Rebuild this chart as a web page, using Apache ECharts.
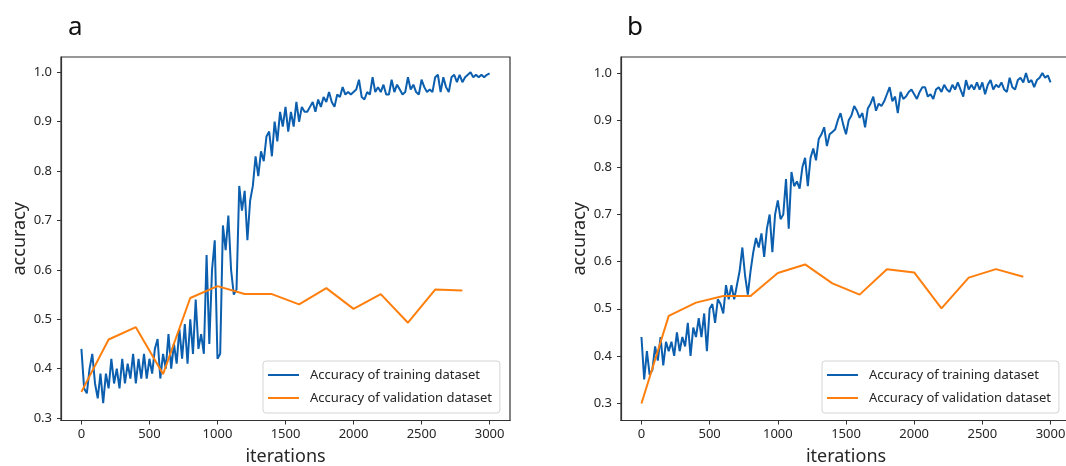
<!DOCTYPE html>
<html>
<head>
<meta charset="utf-8">
<script src="https://cdn.jsdelivr.net/npm/echarts@6/dist/echarts.min.js"></script>
<style>
  html, body { margin: 0; padding: 0; background: #fff; }
  #chart { width: 1066px; height: 466px; }
</style>
</head>
<body>
<div id="chart"></div>
<script>
// training accuracy is sampled every STEP iterations, validation every VAL_STEP
const STEP = 20;
const VAL_STEP = 200;
const xTicks = [0, 500, 1000, 1500, 2000, 2500, 3000];
const yTicks = [0.3, 0.4, 0.5, 0.6, 0.7, 0.8, 0.9, 1.0];

const trainA = [
  0.44, 0.36, 0.35, 0.40, 0.43, 0.37, 0.34, 0.39, 0.33, 0.39,
  0.36, 0.42, 0.37, 0.40, 0.36, 0.42, 0.37, 0.41, 0.38, 0.43,
  0.37, 0.42, 0.38, 0.43, 0.38, 0.42, 0.39, 0.44, 0.46, 0.38,
  0.43, 0.40, 0.47, 0.40, 0.45, 0.41, 0.48, 0.42, 0.49, 0.41,
  0.50, 0.43, 0.54, 0.44, 0.47, 0.43, 0.63, 0.45, 0.60, 0.66,
  0.42, 0.43, 0.69, 0.64, 0.71, 0.60, 0.55, 0.56, 0.77, 0.72,
  0.76, 0.66, 0.74, 0.77, 0.83, 0.79, 0.84, 0.82, 0.87, 0.88,
  0.83, 0.90, 0.86, 0.92, 0.89, 0.93, 0.88, 0.92, 0.89, 0.94,
  0.90, 0.93, 0.92, 0.92, 0.93, 0.94, 0.92, 0.945, 0.93, 0.95,
  0.94, 0.96, 0.94, 0.93, 0.955, 0.95, 0.97, 0.955, 0.96, 0.955,
  0.96, 0.965, 0.985, 0.95, 0.945, 0.96, 0.955, 0.99, 0.96, 0.97,
  0.96, 0.975, 0.955, 0.955, 0.985, 0.96, 0.975, 0.965, 0.955, 0.96,
  0.99, 0.965, 0.975, 0.96, 0.955, 0.985, 0.97, 0.96, 0.965, 0.96,
  0.99, 0.995, 0.96, 0.99, 0.97, 0.96, 0.99, 0.995, 0.98, 0.995,
  0.98, 0.99, 0.995, 1.0, 0.99, 0.995, 0.99, 0.995, 0.99, 0.995,
  0.998
];
const valA = [0.353, 0.459, 0.484, 0.389, 0.543, 0.567, 0.551, 0.551,
  0.530, 0.563, 0.521, 0.551, 0.493, 0.560, 0.558];

const trainB = [
  0.44, 0.35, 0.41, 0.36, 0.37, 0.42, 0.39, 0.44, 0.38, 0.43,
  0.41, 0.43, 0.40, 0.45, 0.41, 0.44, 0.42, 0.47, 0.40, 0.46,
  0.44, 0.48, 0.44, 0.49, 0.41, 0.50, 0.51, 0.47, 0.52, 0.51,
  0.49, 0.55, 0.52, 0.55, 0.52, 0.55, 0.58, 0.63, 0.57, 0.53,
  0.58, 0.62, 0.65, 0.63, 0.66, 0.61, 0.67, 0.70, 0.62, 0.70,
  0.73, 0.69, 0.70, 0.775, 0.67, 0.79, 0.76, 0.77, 0.755, 0.80,
  0.82, 0.76, 0.82, 0.84, 0.815, 0.86, 0.87, 0.885, 0.845, 0.87,
  0.875, 0.88, 0.90, 0.915, 0.89, 0.87, 0.90, 0.91, 0.93, 0.92,
  0.905, 0.915, 0.885, 0.925, 0.935, 0.95, 0.92, 0.935, 0.93, 0.94,
  0.955, 0.97, 0.94, 0.95, 0.915, 0.96, 0.945, 0.95, 0.96, 0.965,
  0.955, 0.945, 0.96, 0.97, 0.97, 0.95, 0.955, 0.945, 0.965, 0.97,
  0.96, 0.975, 0.965, 0.96, 0.975, 0.965, 0.98, 0.965, 0.95, 0.985,
  0.965, 0.975, 0.965, 0.98, 0.965, 0.98, 0.955, 0.975, 0.985, 0.965,
  0.975, 0.97, 0.98, 0.965, 0.96, 0.99, 0.97, 0.965, 0.985, 0.99,
  0.98, 1.0, 0.98, 0.985, 0.97, 0.985, 0.99, 1.0, 0.99, 0.995,
  0.98
];
const valB = [0.299, 0.485, 0.513, 0.527, 0.527, 0.576, 0.594, 0.554,
  0.530, 0.584, 0.577, 0.501, 0.566, 0.584, 0.568];

const trainName = 'Accuracy of training dataset';
const valName = 'Accuracy of validation dataset';
const blue = '#0b5fae';
const orange = '#ff7f0e';
const ink = '#262626';
const font = 'Noto Sans';

const chart = echarts.init(document.getElementById('chart'), null, { renderer: 'canvas' });

// one panel = grid + x/y axis with matplotlib-like box and outward ticks
function makeX(idx) {
  return {
    type: 'value', gridIndex: idx, min: -150, max: 3150, splitNumber: 6,
    name: 'iterations', nameLocation: 'middle', nameGap: 27,
    nameTextStyle: { color: ink, fontSize: 18, fontFamily: font },
    axisLine: { show: true, onZero: false, lineStyle: { color: '#333', width: 1.2 } },
    axisTick: { show: true, length: 4, lineStyle: { color: '#333' } },
    splitLine: { show: false },
    axisLabel: {
      color: ink, fontSize: 13, fontFamily: font, margin: 7,
      showMinLabel: false, showMaxLabel: false,
      formatter: v => (xTicks.indexOf(v) >= 0 ? String(v) : '')
    }
  };
}
function makeY(idx, min, max) {
  return {
    type: 'value', gridIndex: idx, min: min, max: max, splitNumber: 7,
    name: 'accuracy', nameLocation: 'middle', nameGap: 32, nameRotate: 90,
    nameTextStyle: { color: ink, fontSize: 18, fontFamily: font },
    axisLine: { show: true, onZero: false, lineStyle: { color: '#333', width: 1.2 } },
    axisTick: { show: true, length: 4, lineStyle: { color: '#333' } },
    splitLine: { show: false },
    axisLabel: {
      color: ink, fontSize: 13, fontFamily: font, margin: 9,
      showMinLabel: false, showMaxLabel: false,
      formatter: v => {
        const r = Math.round(v * 10) / 10;
        return (Math.abs(v - r) < 1e-6 && yTicks.indexOf(r) >= 0) ? r.toFixed(1) : '';
      }
    }
  };
}
function makeLegend(left) {
  return {
    orient: 'vertical', left: left, top: 361,
    data: [trainName, valName],
    icon: 'rect', itemWidth: 31, itemHeight: 2, itemGap: 9,
    padding: [7, 8, 8, 5],
    backgroundColor: '#fff', borderColor: '#d4d4d4', borderWidth: 1, borderRadius: 3,
    textStyle: { color: ink, fontSize: 13, lineHeight: 14, fontFamily: font, padding: [0, 0, 0, 6] }
  };
}
function lineSeries(name, idx, color, values, step) {
  return {
    name: name, type: 'line', xAxisIndex: idx, yAxisIndex: idx,
    data: values.map((v, i) => [i * step, v]),
    symbol: 'none', showSymbol: false, animation: false,
    lineStyle: { color: color, width: 2 }, itemStyle: { color: color }
  };
}
function makeGrid(left, width) {
  return {
    left: left, top: 57, width: width, height: 363.5,
    containLabel: false, outerBoundsMode: 'none',
    show: true, borderColor: '#333', borderWidth: 1.2, backgroundColor: 'transparent'
  };
}

const option = {
  backgroundColor: '#fff',
  title: [
    { text: 'a', left: 63, top: 10, textStyle: { fontSize: 26, fontWeight: 'normal', color: '#111', fontFamily: font } },
    { text: 'b', left: 622, top: 10, textStyle: { fontSize: 26, fontWeight: 'normal', color: '#111', fontFamily: font } }
  ],
  grid: [makeGrid(61, 449), makeGrid(621, 450)],
  xAxis: [makeX(0), makeX(1)],
  yAxis: [makeY(0, 0.295, 1.031), makeY(1, 0.263, 1.034)],
  legend: [makeLegend(263), makeLegend(822)],
  series: [
    lineSeries(trainName, 0, blue, trainA, STEP),
    lineSeries(valName, 0, orange, valA, VAL_STEP),
    lineSeries(trainName, 1, blue, trainB, STEP),
    lineSeries(valName, 1, orange, valB, VAL_STEP)
  ]
};
chart.setOption(option);
window.addEventListener('resize', function () {
  chart.resize();
});
</script>
</body>
</html>
